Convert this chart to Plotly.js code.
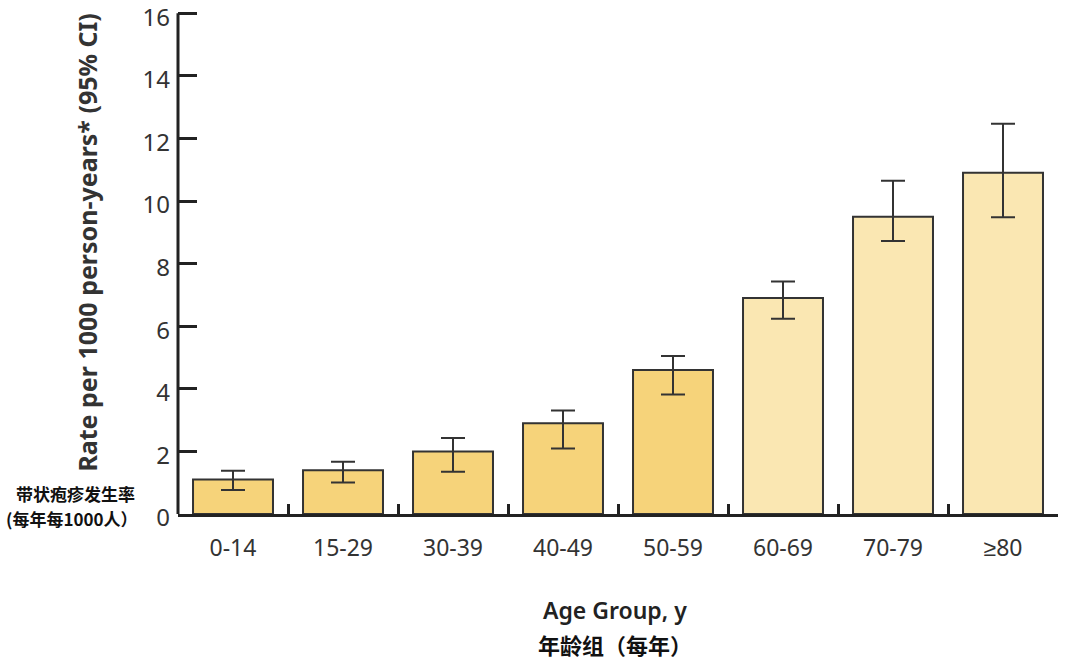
<!DOCTYPE html>
<html><head><meta charset="utf-8">
<script src="https://cdn.plot.ly/plotly-3.0.1.min.js"></script>
<style>html,body{margin:0;padding:0;background:#fff;}#chart{width:1080px;height:670px;}</style>
</head><body><div id="chart"></div>
<script>
const categories = ["0-14","15-29","30-39","40-49","50-59","60-69","70-79","≥80"];
const rates = [1.1, 1.4, 2.0, 2.9, 4.6, 6.9, 9.5, 10.9];
const ciUpper = [1.38, 1.67, 2.43, 3.31, 5.05, 7.43, 10.65, 12.47];
const ciLower = [0.77, 1.01, 1.35, 2.09, 3.82, 6.24, 8.72, 9.48];
const barColors = ["#F6D37A","#F6D37A","#F6D37A","#F6D37A","#F6D37A","#FAE7B2","#FAE7B2","#FAE7B2"];
const yTicks = [0,2,4,6,8,10,12,14,16];

const trace = {
  type: "bar",
  x: categories,
  y: rates,
  width: 0.727,
  marker: {color: barColors, line: {color: "#333", width: 2}},
  error_y: {
    type: "data", symmetric: false,
    array: rates.map((v,i)=>ciUpper[i]-v),
    arrayminus: rates.map((v,i)=>v-ciLower[i]),
    color: "#333", thickness: 2, width: 12
  },
  hoverinfo: "x+y"
};

const layout = {
  width: 1080, height: 670,
  margin: {l: 178, r: 22, t: 7, b: 156},
  paper_bgcolor: "#fff", plot_bgcolor: "#fff",
  showlegend: false,
  font: {family: "Noto Sans, sans-serif", color: "#333"},
  xaxis: {
    type: "category", range: [-0.5, 7.5],
    showline: true, linecolor: "#222", linewidth: 3,
    ticks: "inside", tickson: "boundaries", ticklen: 10, tickwidth: 3, tickcolor: "#222",
    tickfont: {size: 23, color: "#333"}, ticklabelstandoff: 11,
    showgrid: false, zeroline: false, fixedrange: true
  },
  yaxis: {
    range: [0, 16.2], tickmode: "array", tickvals: yTicks, ticktext: yTicks.map(String),
    ticklabeloverflow: "allow", ticklabelshift: 4,
    showline: false, linecolor: "#222", linewidth: 3,
    ticks: "inside", ticklen: 19, tickwidth: 3, tickcolor: "#222",
    tickfont: {size: 24, color: "#333"}, ticklabelstandoff: 7,
    showgrid: false, zeroline: false, fixedrange: true
  },
  shapes: [
    {type: "line", xref: "paper", yref: "y", x0: 0, x1: 0, y0: 0, y1: 16,
     line: {color: "#222", width: 3}}
  ],
  annotations: [
    {text: "<b>Rate per 1000 person-years* (95% CI)</b>", textangle: -90,
     xref: "paper", yref: "paper", x: -0.103, y: 0.536, xanchor: "center", yanchor: "middle",
     showarrow: false, font: {size: 25, color: "#333"}},
    {text: "<b>带状疱疹发生率</b>", xref: "paper", yref: "paper", x: -0.1165, y: 0.0414,
     xanchor: "center", yanchor: "middle", showarrow: false,
     font: {size: 17, color: "#111", family: "Noto Sans CJK SC"}},
    {text: "<b>(每年每1000人）</b>", xref: "paper", yref: "paper", x: -0.12, y: -0.0079,
     xanchor: "center", yanchor: "middle", showarrow: false,
     font: {size: 17, color: "#111", family: "Noto Sans CJK SC"}},
    {text: "Age Group, y", xref: "paper", yref: "paper", x: 0.497, y: -0.19,
     xanchor: "center", yanchor: "middle", showarrow: false,
     font: {size: 23, color: "#222", family: "Noto Sans", weight: 600}},
    {text: "<b>年龄组（每年）</b>", xref: "paper", yref: "paper", x: 0.497, y: -0.256,
     xanchor: "center", yanchor: "middle", showarrow: false,
     font: {size: 22, color: "#111", family: "Noto Sans CJK SC"}}
  ]
};

Plotly.newPlot("chart", [trace], layout, {displayModeBar: false, staticPlot: true});
</script></body></html>
